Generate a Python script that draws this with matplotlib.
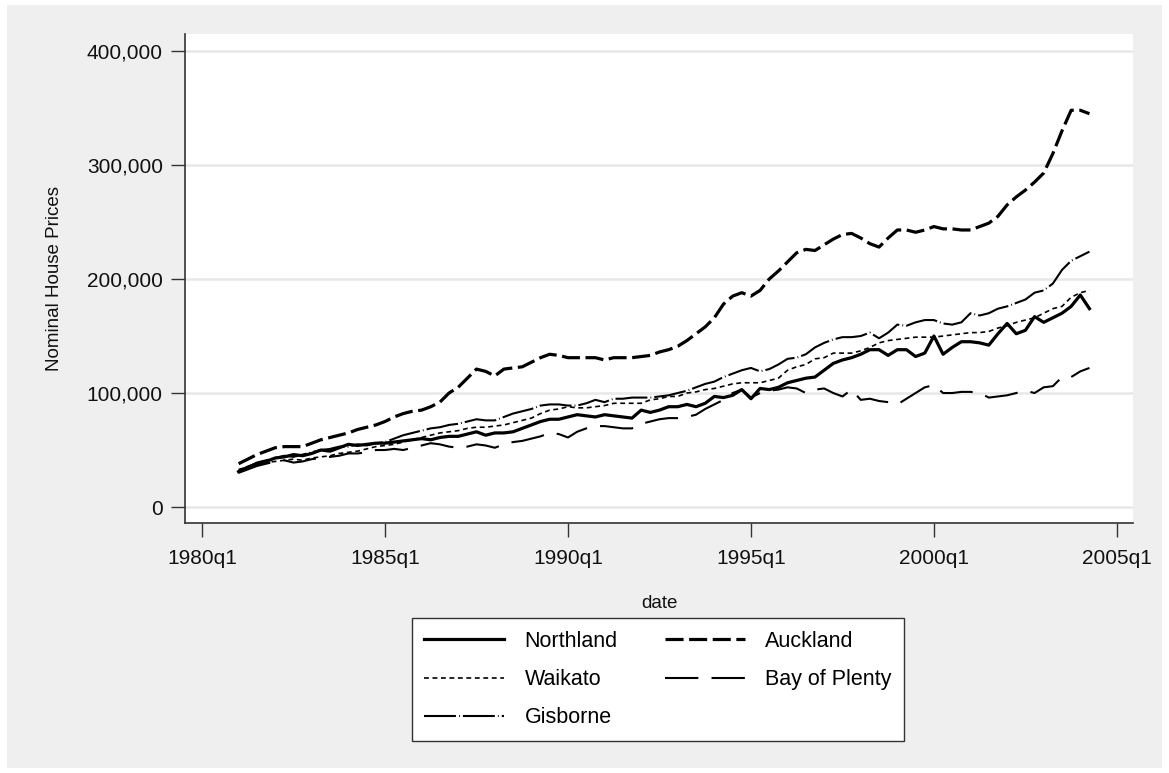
import numpy as np
import matplotlib
matplotlib.use("Agg")
import matplotlib.pyplot as plt
from matplotlib.patches import Rectangle
from matplotlib.ticker import FuncFormatter

plt.rcParams['font.family'] = ['Liberation Sans', 'DejaVu Sans']
plt.rcParams['lines.scale_dashes'] = False

# quarterly nominal house prices (thousands), 1981q1 .. 2004q2
start_year = 1981
northland = [31, 35, 38, 40, 43, 44, 46, 45, 47, 50, 49, 52, 55, 54, 55, 56,
             56, 57, 58, 59, 60, 59, 61, 62, 62, 64, 66, 63, 65, 65, 66, 69,
             72, 75, 77, 77, 79, 81, 80, 79, 81, 80, 79, 78, 85, 83, 85, 88,
             88, 90, 88, 91, 97, 96, 98, 103, 95, 104, 103, 105, 109, 111, 113, 114,
             120, 126, 129, 131, 134, 138, 138, 133, 138, 138, 132, 135, 150, 134, 140, 145,
             145, 144, 142, 152, 161, 152, 155, 167, 162, 166, 170, 176, 186, 174]
auckland = [38, 42, 46, 49, 52, 53, 53, 53, 56, 59, 61, 63, 65, 68, 70, 72,
            75, 79, 82, 84, 85, 88, 92, 100, 105, 113, 121, 119, 115, 121, 122, 123,
            127, 131, 134, 133, 131, 131, 131, 131, 129, 131, 131, 131, 132, 133, 136, 138,
            141, 146, 152, 158, 166, 178, 185, 188, 185, 190, 200, 207, 215, 223, 226, 225,
            230, 235, 239, 240, 236, 231, 228, 236, 243, 243, 241, 243, 246, 244, 244, 243,
            243, 246, 249, 255, 265, 272, 278, 285, 293, 310, 330, 348, 348, 345]
waikato = [33, 35, 37, 39, 40, 41, 42, 41, 43, 44, 45, 47, 48, 49, 51, 53,
           54, 55, 57, 59, 61, 63, 65, 66, 67, 69, 70, 70, 71, 72, 74, 76,
           78, 82, 85, 86, 88, 87, 87, 88, 89, 91, 91, 91, 91, 94, 95, 97,
           97, 100, 101, 103, 104, 106, 108, 109, 109, 109, 111, 113, 120, 123, 125, 130,
           131, 135, 135, 135, 137, 140, 144, 146, 147, 148, 149, 149, 149, 150, 151, 152,
           153, 153, 154, 157, 159, 162, 164, 166, 170, 174, 176, 184, 188, 190]
bay_of_plenty = [30, 33, 36, 38, 40, 41, 39, 40, 42, 43, 44, 45, 47, 47, 48, 50,
                 50, 51, 50, 52, 54, 56, 55, 53, 52, 53, 55, 54, 52, 55, 57, 58,
                 60, 62, 65, 64, 61, 66, 69, 71, 71, 70, 69, 69, 73, 75, 77, 78,
                 78, 79, 81, 86, 90, 94, 100, 103, 96, 100, 102, 103, 105, 104, 100, 103,
                 104, 100, 97, 103, 94, 95, 93, 92, 90, 95, 100, 105, 107, 100, 100, 101,
                 101, 100, 96, 97, 98, 100, 102, 100, 105, 106, 114, 114, 119, 122]
gisborne = [32, 35, 39, 41, 43, 45, 44, 46, 48, 50, 51, 53, 53, 55, 54, 56,
            57, 60, 63, 65, 67, 69, 70, 72, 73, 75, 77, 76, 76, 79, 82, 84,
            86, 89, 90, 90, 89, 89, 91, 94, 92, 95, 95, 96, 96, 96, 97, 98,
            100, 102, 105, 108, 110, 114, 117, 120, 122, 119, 121, 125, 130, 131, 134, 140,
            144, 147, 149, 149, 150, 153, 148, 153, 160, 159, 162, 164, 164, 161, 160, 162,
            170, 168, 170, 174, 176, 179, 182, 188, 190, 196, 208, 216, 220, 224]

date = start_year + np.arange(len(northland)) / 4.0
xticks = [1980, 1985, 1990, 1995, 2000, 2005]
xticklabels = ['1980q1', '1985q1', '1990q1', '1995q1', '2000q1', '2005q1']
yticks = [0, 100000, 200000, 300000, 400000]

fig = plt.figure(figsize=(11.69, 7.73), dpi=100, facecolor='white')
# grey graph region inside a thin white margin
fig.patches.append(Rectangle((7 / 1169, 5 / 773), 1155 / 1169, 763 / 773,
                             transform=fig.transFigure, facecolor='#efefef',
                             edgecolor='none', zorder=-5))
ax = fig.add_axes([185 / 1169, 1 - 523 / 773, 948 / 1169, 489 / 773])
ax.set_facecolor('white')

k = 1000
l1, = ax.plot(date, np.array(northland) * k, color='black', lw=2.3, ls='-')
l2, = ax.plot(date, np.array(auckland) * k, color='black', lw=2.3, ls=(0, (13, 4)))
l3, = ax.plot(date, np.array(waikato) * k, color='black', lw=1.2, ls=(0, (3.5, 2.6)))
l4, = ax.plot(date, np.array(bay_of_plenty) * k, color='black', lw=1.5, ls=(0, (24, 9.5)))
l5, = ax.plot(date, np.array(gisborne) * k, color='black', lw=1.5, ls=(0, (23, 2.2, 0.6, 2.2)))

ax.set_xlim(1979.535, 2005.44)
ax.set_ylim(-14000, 414900)
ax.set_xticks(xticks)
ax.set_xticklabels(xticklabels)
ax.set_yticks(yticks)
ax.yaxis.set_major_formatter(FuncFormatter(lambda v, p: f'{int(v):,}'))
ax.tick_params(axis='both', length=10, width=1, color='#333333', labelsize=15,
               labelcolor='#111111', pad=6)
ax.tick_params(axis='x', pad=9)
ax.grid(axis='y', color='#e8e8e8', lw=1.8)
ax.set_axisbelow(True)
for s in ['top', 'right']:
    ax.spines[s].set_visible(False)
for s in ['left', 'bottom']:
    ax.spines[s].set_color('#333333')
    ax.spines[s].set_linewidth(1.2)

ax.set_ylabel('Nominal House Prices', fontsize=13.5, color='#111111', labelpad=17)
ax.set_xlabel('date', fontsize=13.5, color='#111111', labelpad=19)

leg = fig.legend([l1, l3, l5, l2, l4],
                 ['Northland', 'Waikato', 'Gisborne', 'Auckland', 'Bay of Plenty'],
                 ncol=2, loc='upper center', bbox_to_anchor=(658 / 1169, 1 - 618 / 773),
                 borderaxespad=0, fontsize=15.5, frameon=True, fancybox=False,
                 edgecolor='#333333', facecolor='white', framealpha=1,
                 handlelength=3.7, handletextpad=0.95, columnspacing=2.2,
                 labelspacing=0.8, borderpad=0.6)
leg.get_frame().set_linewidth(1.0)

fig.savefig('out.png', dpi=100, facecolor=fig.get_facecolor())
